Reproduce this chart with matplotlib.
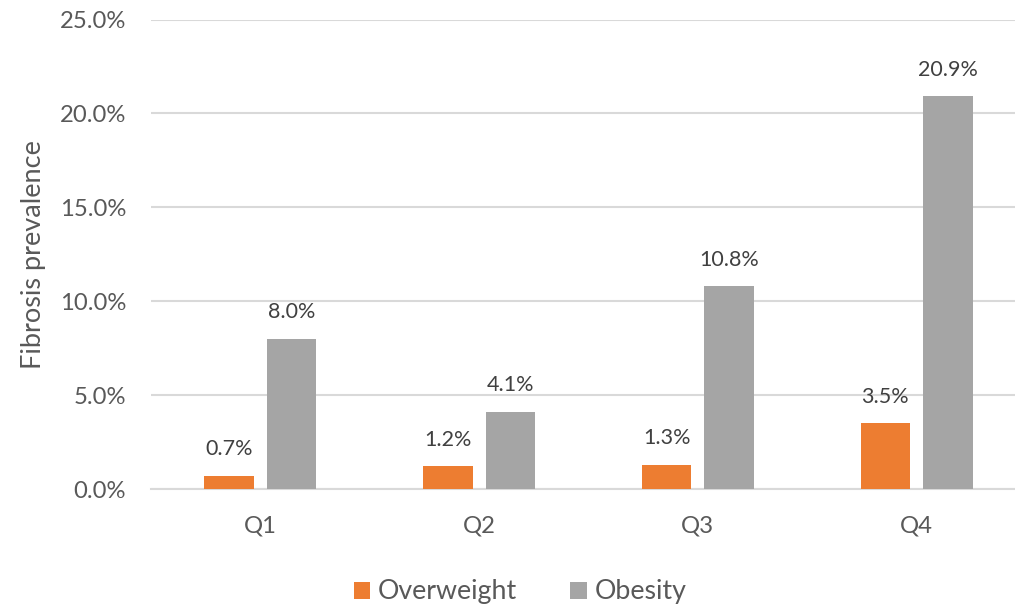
import matplotlib
matplotlib.use("Agg")
import matplotlib.pyplot as plt
import numpy as np
from matplotlib.ticker import PercentFormatter

categories = ["Q1", "Q2", "Q3", "Q4"]
overweight = [0.7, 1.2, 1.3, 3.5]
obesity = [8.0, 4.1, 10.8, 20.9]
series_names = ["Overweight", "Obesity"]
yticks = [0, 5, 10, 15, 20, 25]

plt.rcParams['font.family'] = ['Lato', 'DejaVu Sans']

W, H = 1015, 608
fig = plt.figure(figsize=(W / 100, H / 100), dpi=100)
left, right, bottom, top = 151, 1026, 489, 19.5
ax = fig.add_axes([left / W, 1 - bottom / H, (right - left) / W, (bottom - top) / H])

x = np.arange(len(categories))
width = 0.227
off = 0.143
c_or = "#ED7D31"
c_gr = "#A5A5A5"
b1 = ax.bar(x - off, overweight, width, color=c_or, label=series_names[0], zorder=3)
b2 = ax.bar(x + off, obesity, width, color=c_gr, label=series_names[1], zorder=3)

for bars, vals in ((b1, overweight), (b2, obesity)):
    for r, v in zip(bars, vals):
        ax.annotate(f"{v:.1f}%", (r.get_x() + r.get_width() / 2, v),
                    xytext=(0, 12), textcoords="offset points",
                    ha="center", va="bottom", fontsize=15.5, color="#404040")

ax.set_xlim(-0.5, len(categories) - 0.5)
ax.set_ylim(0, 25)
ax.set_yticks(yticks)
ax.yaxis.set_major_formatter(PercentFormatter(decimals=1))
ax.set_xticks(x)
ax.set_xticklabels(categories)
ax.grid(axis="y", color="#D9D9D9", linewidth=1.5, zorder=0)
for s in ["top", "right", "left"]:
    ax.spines[s].set_visible(False)
ax.spines["bottom"].set_color("#D9D9D9")
ax.spines["bottom"].set_linewidth(1.5)
ax.tick_params(axis="both", length=0, labelsize=17.2, colors="#595959")
ax.tick_params(axis="y", pad=18)
ax.tick_params(axis="x", pad=19)
ax.set_ylabel("Fibrosis prevalence", fontsize=19.5, color="#595959", labelpad=10)

fig.legend(handles=[b1, b2], labels=series_names, loc="center",
           bbox_to_anchor=(520 / W, 1 - 592 / H), ncol=2, frameon=False,
           fontsize=19.3, handlelength=0.6, handleheight=0.6, handletextpad=0.3,
           columnspacing=2.0, labelcolor="#595959")

fig.savefig("out.png", dpi=100)
